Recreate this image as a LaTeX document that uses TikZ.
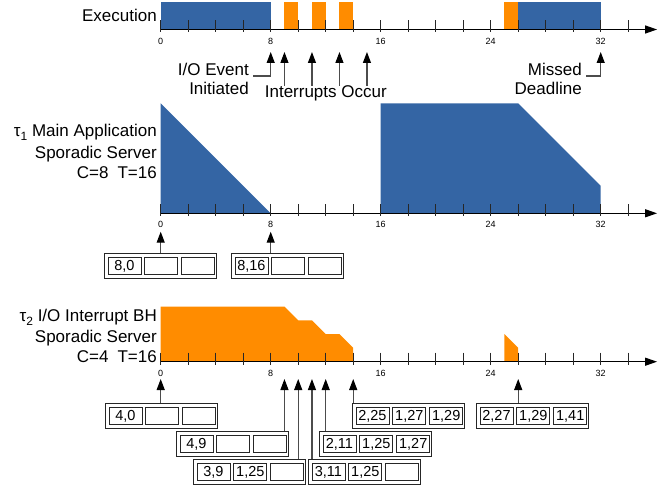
\documentclass[tikz,border=0pt]{standalone}
\usepackage{fontspec}
\setmainfont{Liberation Sans}
\usetikzlibrary{arrows.meta}
\definecolor{ssblue}{RGB}{52,101,164}
\definecolor{ssorange}{RGB}{255,140,0}
\newcommand\ssrow[5]{%
  \node[outerbox, anchor=north west] (#1) at (#2) {};
  \node[slot, anchor=west] (#1a) at ([xshift=3.5pt]#1.west) {#3};
  \node[slot, anchor=west] (#1b) at ([xshift=3pt]#1a.east) {#4};
  \node[slot, anchor=west] (#1c) at ([xshift=3pt]#1b.east) {#5};
}
\newcommand\subnum[1]{\raisebox{-4pt}{\fontsize{12}{12}\selectfont #1}}
\begin{document}
\begin{tikzpicture}[x=1pt,y=-1pt,
  lbl/.style={font=\fontsize{17}{20}\selectfont, inner sep=0pt},
  ticklbl/.style={font=\fontsize{9}{10}\selectfont, inner sep=0pt},
  axisline/.style={line width=1.2pt, draw=black, -{Triangle[length=12pt,width=8pt]}},
  tickmark/.style={line width=1pt, draw=black!85},
  arr/.style={line width=1.1pt, draw=black!70, -{Triangle[length=11pt,width=8pt,color=black]}},
  outerbox/.style={draw=black!85, line width=0.9pt, minimum width=112pt, minimum height=25pt, inner sep=0pt},
  slot/.style={draw=black!85, line width=0.9pt, minimum width=33pt, minimum height=17.5pt, inner sep=0pt, font=\fontsize{14.5}{15}\selectfont},
]
\useasboundingbox (0,0) rectangle (669,489);

\begin{scope}[shift={(160.7,0)}, x=13.75pt]
  % execution bars
  \fill[ssblue] (0,2) rectangle (8,29.5);
  \fill[ssorange] (9,2) rectangle (10,29.5);
  \fill[ssorange] (11,2) rectangle (12,29.5);
  \fill[ssorange] (13,2) rectangle (14,29.5);
  \fill[ssorange] (25,2) rectangle (26,29.5);
  \fill[ssblue] (26,2) rectangle (32,29.5);
  % tau1 budget
  \fill[ssblue] (0,103.3) -- (8,213.3) -- (0,213.3) -- cycle;
  \fill[ssblue] (16,103.3) -- (26,103.3) -- (32,185.8) -- (32,213.3) -- (16,213.3) -- cycle;
  % tau2 budget
  \fill[ssorange] (0,306.7) -- (9,306.7) -- (10,320.45) -- (11,320.45) -- (12,334.2) -- (13,334.2) -- (14,347.95) -- (14,361.7) -- (0,361.7) -- cycle;
  \fill[ssorange] (25,334.2) -- (26,347.95) -- (26,361.7) -- (25,361.7) -- cycle;
  % axes
  \foreach \ya/\nm in {29.5/ex, 213.3/ta, 361.7/tb}{
    \coordinate (\nm0) at (0,\ya);
    \coordinate (\nm E) at (36.1,\ya);
    \draw[axisline] (\nm0) -- (\nm E);
    \foreach \t in {0,2,...,34}{\draw[tickmark] (\t,\ya-9) -- (\t,\ya+3);}
    \foreach \t in {0,8,16,24,32}{\node[ticklbl] (\nm l\t) at (\t,\ya+11.5) {\t};}
  }
  % arrow tips
  \coordinate (ioTip) at (8,52);
  \coordinate (mdTip) at (32,52);
  \foreach \t in {9,11,13,15}{\coordinate (tip\t) at (\t,52);}
  \coordinate (ua0) at (0,231.7);
  \coordinate (ua8) at (8,231.7);
  \foreach \t in {0,9,10,11,12,14,26}{\coordinate (ub\t) at (\t,379);}
\end{scope}

% execution labels
\node[lbl, anchor=base east] (exlbl) at (157,22) {Execution};
\node[lbl, anchor=base east] (ioe1) at (249,76) {I/O Event};
\node[lbl, anchor=base east] (ioe2) at (249,95) {Initiated};
\draw[arr] ([xshift=4pt]ioe1.base east) -| (ioTip);
\node[lbl, anchor=base] (intr) at (325.8,98) {Interrupts Occur};
\foreach \t in {9,11,13,15}{\draw[arr] (intr.north -| tip\t) -- (tip\t);}
\node[lbl, anchor=base east] (md1) at (582,76) {Missed};
\node[lbl, anchor=base east] (md2) at (582,95) {Deadline};
\draw[arr] ([xshift=4pt]md1.base east) -| (mdTip);

% tau1 labels
\node[lbl, anchor=base east] (t1a) at (157,137) {τ\subnum{1} Main Application};
\node[lbl, anchor=base east] (t1b) at (157,159) {Sporadic Server};
\node[lbl, anchor=base east] (t1c) at (157,178.5) {C=8\hspace{9pt}T=16};
% tau2 labels
\node[lbl, anchor=base east] (t2a) at (157,321) {τ\subnum{2} I/O Interrupt BH};
\node[lbl, anchor=base east] (t2b) at (157,342.5) {Sporadic Server};
\node[lbl, anchor=base east] (t2c) at (157,362) {C=4\hspace{9pt}T=16};

% tau1 boxes
\ssrow{A1}{104,253}{8,0}{}{}
\ssrow{A2}{231,253}{8,16}{}{}
\draw[arr] (ua0 |- A1.north) -- (ua0);
\draw[arr] (ua8 |- A2.north) -- (ua8);

% tau2 boxes
\ssrow{B1}{105,403}{4,0}{}{}
\ssrow{B2}{176,431}{4,9}{}{}
\ssrow{B3}{193,459}{3,9}{1,25}{}
\ssrow{B4}{308,459}{3,11}{1,25}{}
\ssrow{B5}{319,431}{2,11}{1,25}{1,27}
\ssrow{B6}{352,403}{2,25}{1,27}{1,29}
\ssrow{B7}{476,403}{2,27}{1,29}{1,41}
\draw[arr] (ub0 |- B1.north) -- (ub0);
\draw[arr] (ub9 |- B2.north) -- (ub9);
\draw[arr] (ub10 |- B3.north) -- (ub10);
\draw[arr] (ub11 |- B4.north) -- (ub11);
\draw[arr] (ub12 |- B5.north) -- (ub12);
\draw[arr] (ub14 |- B6.north) -- (ub14);
\draw[arr] (ub26 |- B7.north) -- (ub26);
\end{tikzpicture}
\end{document}
